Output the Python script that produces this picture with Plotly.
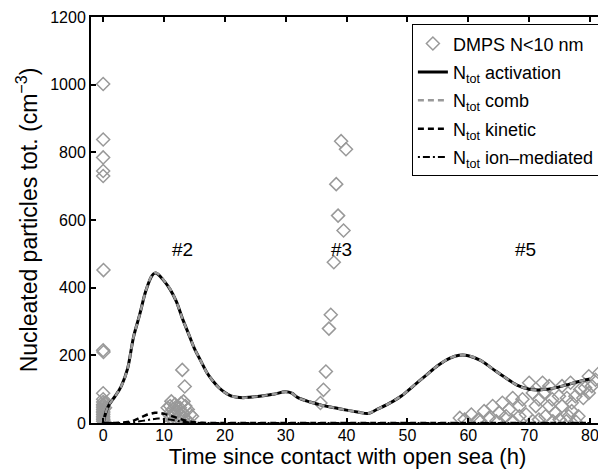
import plotly.graph_objects as go

# model time axis (h)
t_model = [0, 0.5, 1, 2, 3, 4, 5, 6, 7, 8, 8.5, 9, 10, 11, 12, 13, 14, 15, 16,
           17, 18, 19, 20, 21, 22, 23, 24, 26, 28, 30, 31, 32, 34, 36, 38, 40,
           42, 43.5, 45, 47, 49, 51, 53, 55, 57, 58.5, 60, 62, 64, 66, 68, 70,
           72, 74, 76, 78, 80]
n_activation = [0, 35, 55, 80, 110, 160, 255, 320, 390, 435, 443, 440, 420,
                395, 360, 310, 265, 220, 185, 150, 125, 105, 90, 80, 76, 75,
                76, 80, 85, 92, 88, 75, 62, 52, 45, 38, 32, 28, 40, 58, 80,
                110, 140, 170, 192, 200, 199, 185, 160, 135, 112, 100, 98,
                103, 112, 122, 130]
n_comb = [0, 35, 55, 80, 110, 160, 255, 320, 390, 436, 444, 441, 421, 396,
          360, 310, 265, 220, 185, 150, 125, 105, 90, 80, 76, 75, 76, 80, 85,
          92, 88, 75, 62, 52, 45, 38, 32, 28, 40, 58, 80, 110, 140, 170, 192,
          200, 199, 185, 160, 135, 112, 100, 98, 103, 112, 122, 130]
n_kinetic = [0, 0, 0, 0, 1, 3, 7, 15, 23, 28, 30, 30, 27, 22, 16, 10, 5, 2, 1,
             0, 0, 0, 0, 0, 0, 0, 0, 0, 0, 0, 0, 0, 0, 0, 0, 0, 0, 0, 0, 0, 0,
             0, 0, 0, 0, 0, 0, 0, 0, 0, 0, 0, 0, 0, 0, 0, 0]
n_ion = [0, 0, 0, 0, 0, 1, 2, 5, 8, 11, 12, 13, 12, 10, 7, 4, 2, 1, 0, 0, 0,
         0, 0, 0, 0, 0, 0, 0, 0, 0, 0, 0, 0, 0, 0, 0, 0, 0, 0, 0, 0, 0, 0, 0,
         0, 0, 0, 0, 0, 0, 0, 0, 0, 0, 0, 0, 0]

# DMPS observations N<10 nm
dmps_t = [0, 0, 0, 0, 0, 0.05, 0, 0.05, 0, 0, 0, 0, 0, 0, 0, 0, 0, 0, 0, 0,
          0, 0, 0.2, 0.3, 0.3,
          13.0, 13.4, 11.2, 13.2, 10.6, 11.0, 11.4, 11.8, 12.2, 12.6, 13.0,
          13.5, 13.9, 14.3, 14.6, 10.8, 11.2, 11.6, 12.0, 12.4, 12.8, 13.2,
          13.6, 11.0, 11.5, 12.0, 12.8, 14.0, 11.4, 13.2,
          39.1, 39.9, 38.3, 38.6, 39.5, 37.9, 37.4, 37.1, 36.6, 36.2, 35.7,
          59.4, 60.5, 61.6, 62.6, 63.4, 64.0, 65.1, 65.6, 66.7, 67.3, 68.4,
          68.9, 70.0, 70.6, 69.5, 71.1, 72.2, 72.5, 73.3, 71.6, 73.8, 74.3,
          74.9, 75.4, 76.2, 76.5, 77.0, 77.6, 78.1, 78.4, 79.2, 79.8, 80.9,
          81.5, 72.7, 70.6, 73.9, 76.1, 67.3, 64.6, 66.2, 68.4, 75.4, 76.8,
          71.6, 73.3, 75.0, 77.0, 77.6, 78.9, 79.8, 80.3, 58.6, 62.0]
dmps_n = [1002, 838, 785, 745, 730, 452, 215, 210, 88, 70, 62, 55, 50, 45, 40,
          35, 30, 25, 20, 15, 10, 5, 3, 60, 45,
          157, 108, 64, 64, 45, 50, 40, 55, 35, 45, 30, 50, 40, 25, 20, 25,
          15, 30, 10, 20, 5, 15, 10, 0, 5, 48, 58, 5, 22, 28,
          833, 809, 706, 613, 569, 475, 320, 279, 152, 98, 59,
          10, 25, 10, 35, 15, 50, 30, 60, 40, 74, 50, 70, 119, 89, 25, 50,
          119, 89, 109, 10, 70, 30, 79, 50, 74, 20, 60, 79, 20, 99, 104, 138,
          128, 148, 20, 5, 5, 5, 5, 5, 20, 20, 109, 119, 70, 50, 10, 35, 5,
          74, 89, 109, 15, 5]

labels = ["#2", "#3", "#5"]
label_t = [13.1, 39.2, 69.4]
label_n = [512, 512, 512]

gray = "#999999"
font = "Liberation Sans"

fig = go.Figure()

fig.add_trace(go.Scatter(
    x=dmps_t, y=dmps_n, mode="markers", name="DMPS N<10 nm", legendgroup="a",
    marker=dict(symbol="diamond-open", size=10, color=gray,
                line=dict(width=1.5, color=gray)),
))
fig.add_trace(go.Scatter(
    x=t_model, y=n_activation, mode="lines", legendgroup="b",
    name="N<sub>tot</sub> activation",
    line=dict(color="black", width=3, shape="spline"),
))
fig.add_trace(go.Scatter(
    x=t_model, y=n_comb, mode="lines", legendgroup="c",
    name="N<sub>tot</sub> comb",
    line=dict(color=gray, width=2.5, dash="6px,4px", shape="spline"),
))
fig.add_trace(go.Scatter(
    x=t_model, y=n_kinetic, mode="lines", legendgroup="d",
    name="N<sub>tot</sub> kinetic",
    line=dict(color="black", width=2.5, dash="6px,4px", shape="spline"),
))
fig.add_trace(go.Scatter(
    x=t_model, y=n_ion, mode="lines", legendgroup="e",
    name="N<sub>tot</sub> ion\u2013mediated",
    line=dict(color="black", width=2, dash="2px,3px,7px,3px", shape="spline"),
))

for txt, tx, ty in zip(labels, label_t, label_n):
    fig.add_annotation(x=tx, y=ty, text=txt, showarrow=False,
                       font=dict(size=19, color="black", family=font))

axis_style = dict(
    showline=True, linecolor="black", linewidth=2, mirror="ticks",
    ticks="inside", ticklen=5, tickwidth=1.5, tickcolor="black",
    showgrid=False, zeroline=False, ticklabeloverflow="allow",
    tickfont=dict(size=16, color="black", family=font),
)

fig.update_xaxes(
    range=[-2, 82.3], tickvals=[0, 10, 20, 30, 40, 50, 60, 70, 80],
    ticklabelstandoff=-3,
    title=dict(text="Time since contact with open sea (h)", standoff=5,
               font=dict(size=22, color="black", family=font)),
    **axis_style,
)
fig.update_yaxes(
    range=[0, 1200], tickvals=[0, 200, 400, 600, 800, 1000, 1200],
    title=dict(text="Nucleated particles tot. (cm<sup>\u22123</sup>)", standoff=6,
               font=dict(size=23, color="black", family=font)),
    **axis_style,
)

# the page body adds an 8px offset, so the figure is 8px smaller than the window
fig.update_layout(
    width=598, height=461,
    margin=dict(l=83, r=0, t=9, b=46),
    plot_bgcolor="white", paper_bgcolor="white",
    font=dict(family=font, color="black"),
    legend=dict(
        x=0.992, y=0.982, xanchor="right", yanchor="top",
        bgcolor="white", bordercolor="black", borderwidth=1,
        font=dict(size=18, color="black", family=font),
        tracegroupgap=2,
    ),
    showlegend=True,
)

fig.write_html("out.html")
